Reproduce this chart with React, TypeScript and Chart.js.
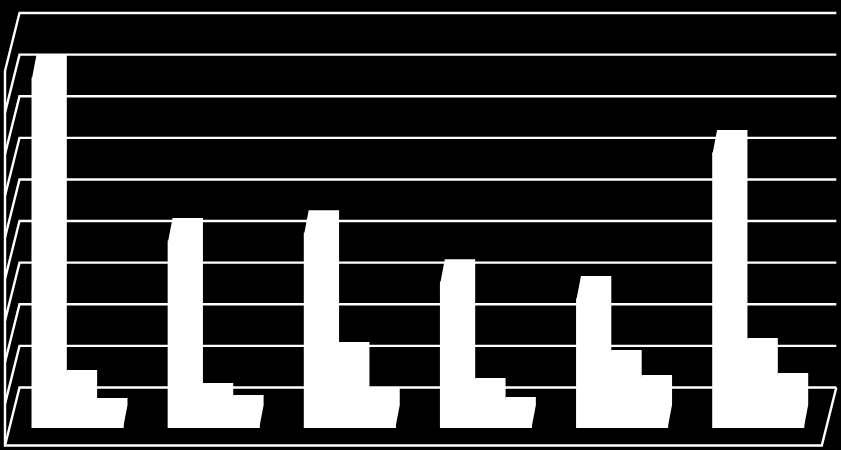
import React, { useEffect, useRef } from "react";
import { Chart, registerables } from "chart.js";

Chart.register(...registerables);

const categories = ["A", "B", "C", "D", "E", "F"];
const seriesOne = [420.6, 224.7, 234, 175, 155, 330.5];
const seriesTwo = [42, 26.4, 75.7, 32.4, 66, 80.5];
const seriesThree = [8.4, 12, 20.4, 9.6, 36, 38.5];
const tickValues = [0, 50, 100, 150, 200, 250, 300, 350, 400, 450];

const WHITE = "#ffffff";
const BACK = { dx: 10, dy: -40.5 };
const FRONT = { dx: -4.5, dy: 17.5 };
const BAR_DEPTH = { dx: 4.4, dy: -23 };

const wallAndDepth = {
  id: "wallAndDepth",
  beforeDatasetsDraw(chart: any) {
    const { ctx, chartArea, scales } = chart;
    const y = scales.y;
    const bl = chartArea.left + BACK.dx;
    const br = chartArea.right + BACK.dx;
    const fl = chartArea.left + FRONT.dx;
    const fr = chartArea.right + FRONT.dx;
    ctx.save();
    ctx.strokeStyle = WHITE;
    ctx.lineWidth = 2.4;
    ctx.lineJoin = "miter";
    for (const v of tickValues) {
      const py = y.getPixelForValue(v) + BACK.dy;
      ctx.beginPath();
      ctx.moveTo(fl, py + FRONT.dy - BACK.dy);
      ctx.lineTo(bl, py);
      ctx.lineTo(br, py);
      ctx.stroke();
    }
    const top = y.getPixelForValue(tickValues[tickValues.length - 1]);
    const base = y.getPixelForValue(0);
    ctx.beginPath();
    ctx.moveTo(fl, top + FRONT.dy);
    ctx.lineTo(fl, base + FRONT.dy);
    ctx.lineTo(fr, base + FRONT.dy);
    ctx.lineTo(br, base + BACK.dy);
    ctx.stroke();

    ctx.fillStyle = WHITE;
    chart.data.datasets.forEach((_: any, i: number) => {
      for (const bar of chart.getDatasetMeta(i).data as any[]) {
        const l = bar.x - bar.width / 2;
        const r = bar.x + bar.width / 2;
        ctx.beginPath();
        ctx.moveTo(l, bar.y);
        ctx.lineTo(l + BAR_DEPTH.dx, bar.y + BAR_DEPTH.dy);
        ctx.lineTo(r + BAR_DEPTH.dx, bar.y + BAR_DEPTH.dy);
        ctx.lineTo(r + BAR_DEPTH.dx, bar.base + BAR_DEPTH.dy);
        ctx.lineTo(r, bar.base);
        ctx.closePath();
        ctx.fill();
      }
    });
    ctx.restore();
  },
};

export default function App() {
  const ref = useRef<HTMLCanvasElement>(null);
  useEffect(() => {
    document.body.style.margin = "0";
    document.body.style.background = "#000";
    const makeSet = (label: string, data: number[]) => ({
      label,
      data,
      backgroundColor: WHITE,
      borderWidth: 0,
      inflateAmount: 0.5,
      barPercentage: 1,
      categoryPercentage: 0.669,
    });
    const chart = new Chart(ref.current!, {
      type: "bar",
      data: {
        labels: categories,
        datasets: [
          makeSet("Series 1", seriesOne),
          makeSet("Series 2", seriesTwo),
          makeSet("Series 3", seriesThree),
        ],
      },
      options: {
        responsive: false,
        animation: false,
        devicePixelRatio: 1,
        layout: { padding: { left: 9.5, right: 14.7, top: 53.5, bottom: 22 } },
        plugins: { legend: { display: false }, tooltip: { enabled: false } },
        scales: {
          x: { display: false, grid: { display: false } },
          y: { display: false, min: 0, max: 450, grid: { display: false } },
        },
      },
      plugins: [wallAndDepth],
    } as any);
    return () => chart.destroy();
  }, []);
  return (
    <div style={{ width: 841, height: 450, background: "#000", overflow: "hidden" }}>
      <canvas ref={ref} width={841} height={450} style={{ display: "block" }} />
    </div>
  );
}
